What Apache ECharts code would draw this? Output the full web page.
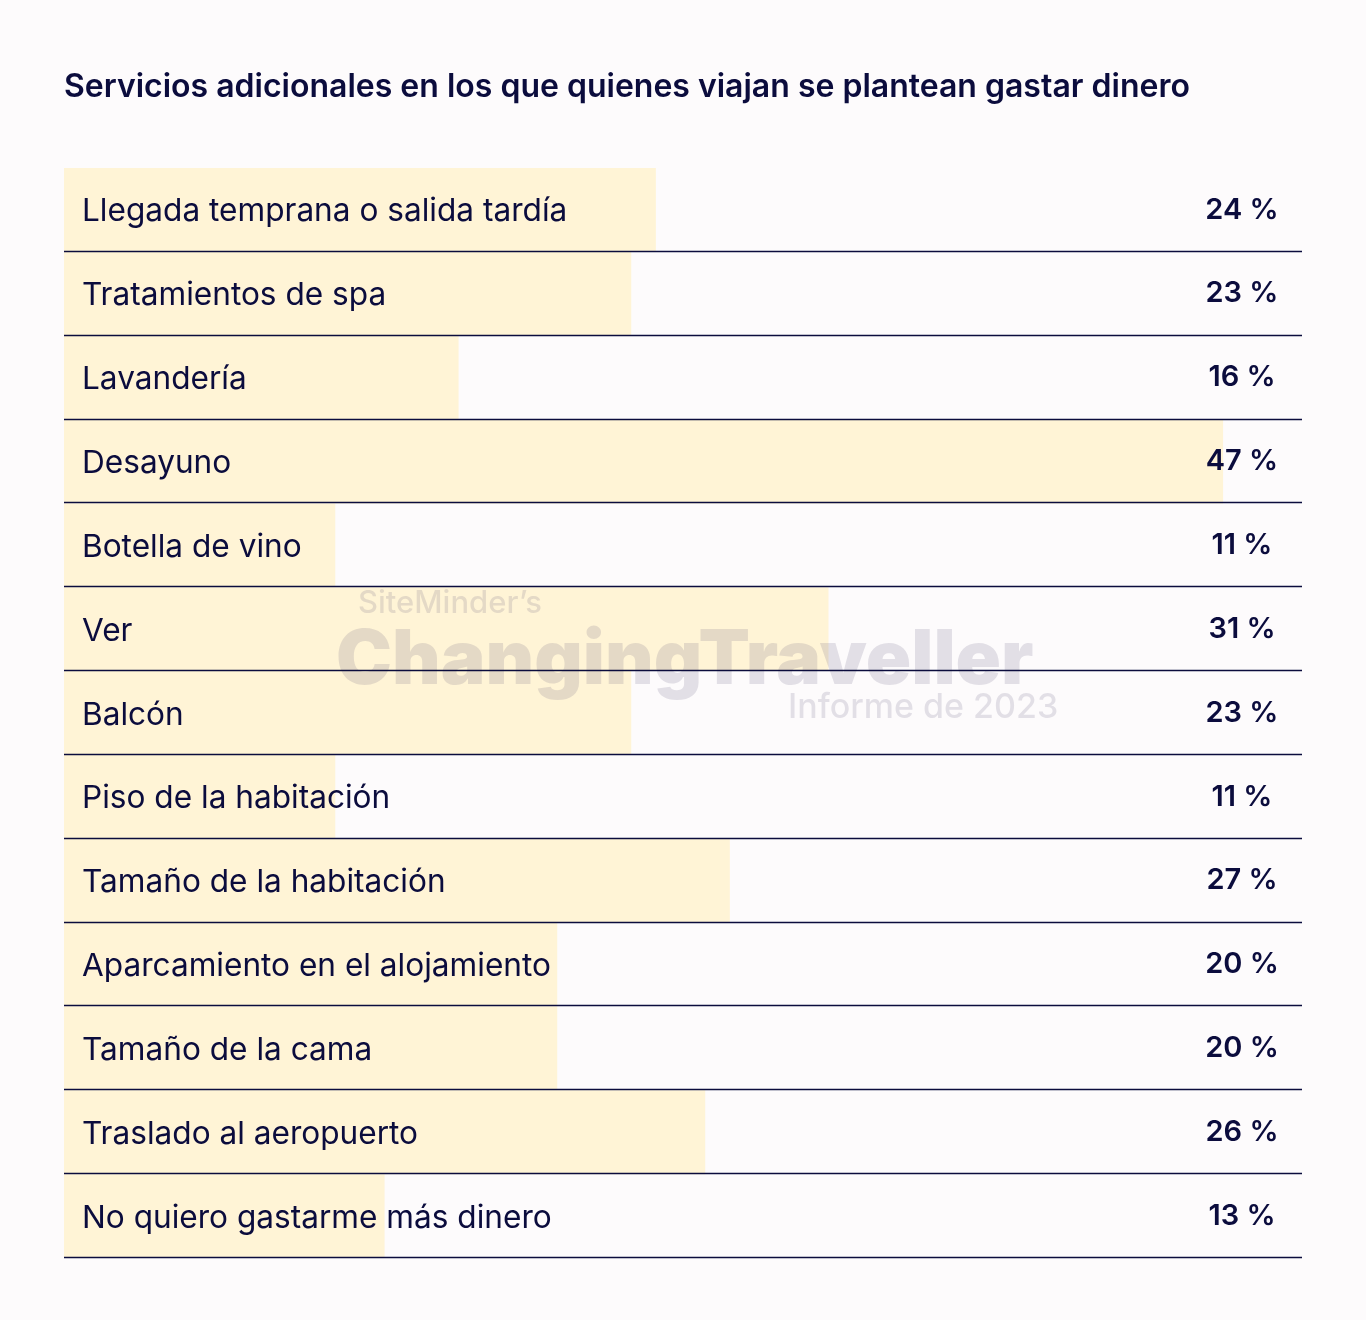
<!DOCTYPE html>
<html>
<head>
<meta charset="utf-8">
<script src="https://cdn.jsdelivr.net/npm/echarts@6/dist/echarts.min.js"></script>
<style>
html,body{margin:0;padding:0;background:#fdfbfc;}
#chart{width:1366px;height:1320px;}
</style>
</head>
<body>
<div id="chart"></div>
<script>
const title = 'Servicios adicionales en los que quienes viajan se plantean gastar dinero';
const categories = [
  'Llegada temprana o salida tardía',
  'Tratamientos de spa',
  'Lavandería',
  'Desayuno',
  'Botella de vino',
  'Ver',
  'Balcón',
  'Piso de la habitación',
  'Tamaño de la habitación',
  'Aparcamiento en el alojamiento',
  'Tamaño de la cama',
  'Traslado al aeropuerto',
  'No quiero gastarme más dinero'
];
const values = [24, 23, 16, 47, 11, 31, 23, 11, 27, 20, 20, 26, 13];
const valueLabels = values.map(v => v + ' %');

const ink = '#0b0c3d';
const chart = echarts.init(document.getElementById('chart'));
chart.setOption({
  backgroundColor: '#fdfbfc',
  animation: false,
  title: {
    text: title,
    left: 59, top: 66,
    textStyle: {fontFamily: 'Inter', fontWeight: 600, fontSize: 32, color: ink}
  },
  grid: {left: 64, right: 64, top: 168, bottom: 62},
  xAxis: {type: 'value', min: 0, max: 50.2, show: false},
  yAxis: [
    {type: 'category', data: categories, inverse: true, show: false},
    {type: 'category', data: valueLabels, inverse: true, position: 'right',
     axisLine: {show: false}, axisTick: {show: false}, splitLine: {show: false},
     z: 10,
     axisLabel: {inside: true, margin: 60, align: 'center', padding: [4, 0, 0, 0],
       fontFamily: 'Inter', fontWeight: 600, fontSize: 29, color: ink}}
  ],
  graphic: [
    {type: 'text', left: 358, top: 588, z: 1, silent: true,
     style: {text: 'SiteMinder’s', fontFamily: 'Inter', fontWeight: 500, fontSize: 31, fill: 'rgba(90,80,120,0.16)'}},
    {type: 'text', left: 336, top: 624, z: 1, silent: true,
     style: {text: 'ChangingTraveller', fontFamily: 'Inter', fontWeight: 900, fontSize: 75, fill: 'rgba(90,80,120,0.16)'}},
    {type: 'text', left: 788, top: 691, z: 1, silent: true,
     style: {text: 'Informe de 2023', fontFamily: 'Inter', fontWeight: 500, fontSize: 34, fill: 'rgba(90,80,120,0.16)'}}
  ],
  series: [
    {
      type: 'bar',
      data: values,
      barCategoryGap: '0%',
      z: 0,
      itemStyle: {color: '#fff4d6'},
      label: {show: true, position: 'insideLeft', distance: 18, offset: [0, 2],
        formatter: p => categories[p.dataIndex],
        fontFamily: 'Inter', fontSize: 31.6, color: ink}
    },
    {
      type: 'custom',
      data: categories.map((c, i) => [i]),
      encode: {y: 0},
      z: 5,
      renderItem: function (params, api) {
        const cs = params.coordSys;
        const idx = api.value(0);
        const center = api.coord([0, idx]);
        const band = api.size([0, 1])[1];
        const y = Math.round(center[1] + band / 2) - 0.5;
        return {type: 'line', shape: {x1: cs.x, y1: y, x2: cs.x + cs.width, y2: y},
          style: {stroke: ink, lineWidth: 1.3}};
      }
    }
  ]
});
</script>
</body>
</html>
